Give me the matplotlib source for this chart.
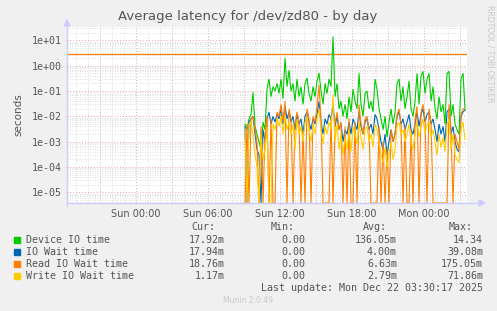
import numpy as np
import matplotlib
matplotlib.use('Agg')
import matplotlib.pyplot as plt
from matplotlib.ticker import FixedLocator, NullFormatter, FuncFormatter
from matplotlib.lines import Line2D
from matplotlib.patches import Polygon

# ---------------- data (values in milliseconds, 10-minute samples) ----------------
start_hour = 9.083          # hours after "Sun 00:00" of first sample
step_hour = 1.0 / 6.0       # 10 minutes

device_ms = [5, 3, 8, 12, 90, 4, 2, 1, 0.5, 6,
             3, 120, 300, 60, 150, 100, 200, 80, 300, 50,
             2000, 150, 680, 100, 200, 40, 300, 60, 150, 30,
             200, 330, 80, 40, 150, 60, 250, 520, 100, 30,
             200, 80, 300, 150, 14340, 60, 200, 20, 40, 10,
             30, 8, 60, 15, 120, 40, 20, 500, 30, 10,
             80, 100, 20, 40, 15, 300, 120, 20, 8, 3,
             10, 1.5, 6, 20, 5, 15, 200, 300, 40, 150,
             20, 60, 250, 20, 10, 40, 500, 30, 400, 600,
             80, 300, 500, 40, 150, 20, 8, 60, 15, 30,
             5, 500, 600, 10, 30, 5, 3, 2, 300, 500, 18]

iowait_ms = [4, 0, 6, 8, 10, 2, 0.5, 0.3, 0, 3,
             1, 8, 15, 5, 10, 6, 12, 8, 20, 5,
             25, 8, 15, 6, 10, 3, 12, 5, 8, 2,
             10, 15, 6, 3, 8, 5, 12, 39, 6, 2,
             8, 5, 12, 8, 30, 4, 10, 3, 5, 1,
             3, 2, 6, 2, 8, 5, 3, 15, 4, 2,
             6, 8, 3, 5, 2, 12, 8, 3, 1, 0.5,
             2, 0.3, 1, 3, 1, 2, 10, 15, 5, 8,
             3, 6, 12, 3, 2, 5, 15, 4, 12, 20,
             6, 12, 15, 5, 8, 3, 1, 5, 2, 4,
             1, 15, 20, 2, 4, 1, 0.5, 0.4, 10, 15, 18]

read_ms = [0, 5, 0, 8, 10, 3, 1, 0, 4, 0,
           2, 10, 0, 8, 0, 0, 15, 10, 30, 6,
           40, 0, 20, 8, 0, 5, 15, 6, 0, 3,
           0, 20, 8, 0, 10, 6, 25, 175, 8, 0,
           0, 0, 0, 10, 0, 5, 15, 3, 6, 0,
           4, 0, 8, 0, 0, 6, 0, 30, 5, 2,
           8, 10, 3, 0, 0, 0, 0, 4, 0, 1,
           0, 0.5, 0, 3, 1, 2, 12, 20, 5, 0,
           4, 0, 0, 3, 0, 8, 25, 0, 15, 30,
           8, 0, 20, 6, 0, 0, 0, 0, 0, 0,
           0, 0, 30, 3, 0, 2, 1, 0.5, 12, 20, 19]

write_ms = [3, 0, 5, 6, 2, 0.3, 0.1, 0, 2, 0.2,
            0.5, 4, 0, 0, 5, 3, 8, 4, 10, 2,
            12, 3, 6, 2, 5, 0.5, 8, 2, 4, 1,
            6, 10, 3, 1, 5, 2, 8, 20, 3, 0.8,
            4, 2, 6, 3, 72, 1, 5, 0.5, 2, 0.3,
            1.5, 0.5, 3, 0.4, 4, 2, 0.8, 6, 1.5, 0.5,
            3, 4, 1, 2, 0.6, 5, 3, 1, 0.3, 0.15,
            0.6, 0.1, 0.3, 1, 0.2, 0.5, 4, 6, 2, 3,
            1, 2, 5, 1, 0.5, 2, 6, 1.5, 4, 8,
            2, 5, 6, 1.5, 3, 1, 0.3, 2, 0.6, 1.5,
            0.4, 5, 8, 0.5, 2, 0.3, 0.2, 0.15, 3, 6, 1.2]

warning_s = 3.0

series_names = ["Device IO time", "IO Wait time", "Read IO Wait time", "Write IO Wait time"]
series_colors = ["#00cc00", "#0066b3", "#ff8000", "#ffcc00"]
cur_vals = ["17.92m", "17.94m", "18.76m", "1.17m"]
min_vals = ["0.00", "0.00", "0.00", "0.00"]
avg_vals = ["136.05m", "4.00m", "6.63m", "2.79m"]
max_vals = ["14.34", "39.08m", "175.05m", "71.86m"]

x_tick_hours = [0, 6, 12, 18, 24]
x_tick_labels = ["Sun 00:00", "Sun 06:00", "Sun 12:00", "Sun 18:00", "Mon 00:00"]
y_decades = [1e-5, 1e-4, 1e-3, 1e-2, 1e-1, 1e0, 1e1]

title = "Average latency for /dev/zd80 - by day"

# ---------------- figure ----------------
W, H = 497, 311
fig = plt.figure(figsize=(W / 100, H / 100), dpi=100, facecolor="#f0f0f0")

def fx(x):
    return x / W

def fy(y):
    return 1 - y / H

L, R, T, B = 67, 467, 27, 203
ax = fig.add_axes([fx(L), fy(B), (R - L) / W, (B - T) / H])
ax.set_facecolor("white")

ymin, ymax = 3.8e-6, 34.0
xmin, xmax = -5.75, 27.58
ax.set_xlim(xmin, xmax)
ax.set_yscale("log")
ax.set_ylim(ymin, ymax)

n = len(device_ms)
t = start_hour + step_hour * np.arange(n)

for vals, col in zip([device_ms, iowait_ms, read_ms, write_ms], series_colors):
    v = np.asarray(vals, dtype=float) / 1000.0
    v = np.maximum(v, ymin)
    ax.plot(t, v, color=col, lw=0.8, solid_joinstyle="miter", zorder=3)

ax.axhline(warning_s, color="#f0801a", lw=1.0, zorder=2)

# grid
major_x = np.arange(-3, 28, 3)
minor_x = np.arange(-5, 28, 1)
ax.xaxis.set_major_locator(FixedLocator(major_x))
ax.xaxis.set_minor_locator(FixedLocator(minor_x))

def xfmt(v, pos):
    h = int(round(v))
    if h in x_tick_hours:
        return x_tick_labels[x_tick_hours.index(h)]
    return ""

ax.xaxis.set_major_formatter(FuncFormatter(xfmt))
ax.xaxis.set_minor_formatter(NullFormatter())

ax.yaxis.set_major_locator(FixedLocator(y_decades))
minor_y = [m * 10.0 ** e for e in range(-6, 2) for m in range(2, 10)]
ax.yaxis.set_minor_locator(FixedLocator(minor_y))
ax.yaxis.set_major_formatter(FuncFormatter(lambda v, p: "%.0e" % v))
ax.yaxis.set_minor_formatter(NullFormatter())

dot = (0, (1, 2))
ax.grid(which="minor", color="#d4d4d4", linestyle=dot, lw=0.6, zorder=1)
ax.grid(which="major", color="#e3a8a8", linestyle=dot, lw=0.7, zorder=1)
ax.set_axisbelow(True)

for s in ax.spines.values():
    s.set_visible(False)

ax.tick_params(axis="both", which="major", colors="#e3a8a8", length=2,
               direction="inout", labelcolor="#555555", labelsize=7, pad=3)
ax.tick_params(axis="both", which="minor", length=0)
for lbl in ax.get_xticklabels():
    lbl.set_fontfamily("DejaVu Sans")
for lbl in ax.get_yticklabels():
    lbl.set_fontfamily("DejaVu Sans Mono")
    lbl.set_fontsize(7.2)

ax.set_ylabel("seconds", color="#555555", fontsize=7.5, labelpad=6)

# axis lines with arrows
axcol = "#ccccff"
fig.add_artist(Line2D([fx(L), fx(481)], [fy(B), fy(B)], color=axcol, lw=1.0))
fig.add_artist(Line2D([fx(L), fx(L)], [fy(B + 3), fy(24)], color=axcol, lw=1.0))
fig.add_artist(Polygon([[fx(479), fy(B - 3)], [fx(485), fy(B)], [fx(479), fy(B + 3)]],
                       closed=True, color=axcol, transform=fig.transFigure))
fig.add_artist(Polygon([[fx(L - 3), fy(26)], [fx(L), fy(20)], [fx(L + 3), fy(26)]],
                       closed=True, color=axcol, transform=fig.transFigure))

# title
fig.text(fx(248), fy(20), title, ha="center", va="baseline", fontsize=9.5,
         color="#555555", family="DejaVu Sans")

# side text
fig.text(fx(490), fy(5), "RRDTOOL / TOBI OETIKER", rotation=270, ha="center",
         va="top", fontsize=5.5, color="#c8c8c8", family="DejaVu Sans")

# legend
mono = "DejaVu Sans Mono"
fs = 7.2
tc = "#555555"
hdr_y = 230
col_right = [225, 305, 397, 483]
for x, lab in zip(col_right, ["Cur:", "Min:", "Avg:", "Max:"]):
    fig.text(fx(x - 10), fy(hdr_y), lab, ha="right", va="baseline", fontsize=fs,
             color=tc, family=mono)

rows_y = [243, 255, 267, 279]
for i, name in enumerate(series_names):
    y = rows_y[i]
    fig.add_artist(Polygon([[fx(14), fy(y - 6)], [fx(20), fy(y - 6)], [fx(20), fy(y)], [fx(14), fy(y)]],
                           closed=True, color=series_colors[i], transform=fig.transFigure))
    fig.text(fx(26), fy(y), name, ha="left", va="baseline", fontsize=fs, color=tc, family=mono)
    for x, val in zip(col_right, [cur_vals[i], min_vals[i], avg_vals[i], max_vals[i]]):
        fig.text(fx(x), fy(y), val, ha="right", va="baseline", fontsize=fs, color=tc, family=mono)

fig.text(fx(483), fy(291), "Last update: Mon Dec 22 03:30:17 2025", ha="right",
         va="baseline", fontsize=fs, color=tc, family=mono)
fig.text(fx(248), fy(303), "Munin 2.0.49", ha="center", va="baseline", fontsize=5.5,
         color="#c8c8c8", family="DejaVu Sans")

fig.savefig("out.png", dpi=100, facecolor=fig.get_facecolor())
